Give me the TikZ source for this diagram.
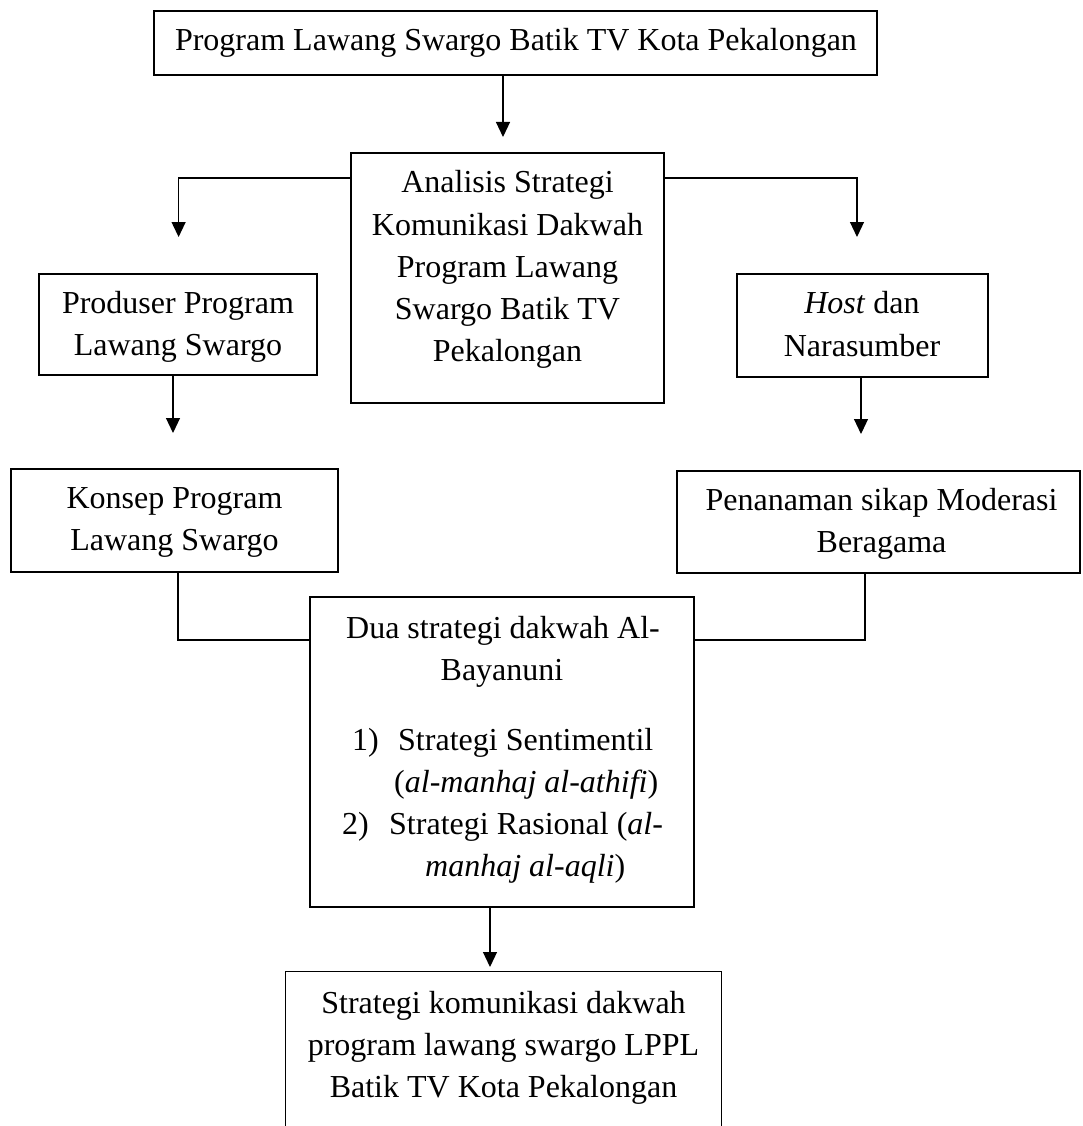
\documentclass[tikz,border=0pt]{standalone}
\usepackage{fontspec}
\setmainfont{Liberation Serif}
\usetikzlibrary{arrows.meta}
\begin{document}
\begin{tikzpicture}[x=1pt,y=-1pt,
  box/.style={draw, line width=1.2pt, inner sep=0pt},
  frame/.style={inner sep=0pt},
  txt/.style={inner sep=0pt, anchor=base, font=\fontsize{32}{42}\selectfont},
  ltxt/.style={inner sep=0pt, anchor=base west, font=\fontsize{32}{42}\selectfont},
  ln/.style={line width=1.2pt},
  arr/.style={line width=1.2pt, -{Triangle[length=15pt,width=14pt]}}]
\useasboundingbox (0,0) rectangle (1082,1126);

% boxes
\node[box, minimum width=723, minimum height=64] (top) at (515.5,43) {};
\node[box, minimum width=313, minimum height=250] (ana) at (507.5,278) {};
\node[box, minimum width=278, minimum height=101] (prod) at (178,324.5) {};
\node[box, minimum width=251, minimum height=103] (host) at (862.5,325.5) {};
\node[box, minimum width=327, minimum height=103] (kon) at (174.5,520.5) {};
\node[box, minimum width=403, minimum height=102] (pen) at (878.5,522) {};
\node[box, minimum width=384, minimum height=310] (dua) at (502,752) {};
\node[frame, minimum width=435, minimum height=168] (bot) at (503.5,1056) {};
\draw[ln] (bot.south west) -- (bot.north west) -- (bot.north east) -- (bot.south east);

% texts
\node[txt] (t0) at (516,51) {Program Lawang Swargo Batik TV Kota Pekalongan};

\node[txt] (a1) at (507.5,193) {Analisis Strategi};
\node[txt] (a2) at (507.5,235) {Komunikasi Dakwah};
\node[txt] (a3) at (507.5,277) {Program Lawang};
\node[txt] (a4) at (507.5,319) {Swargo Batik TV};
\node[txt] (a5) at (507.5,361) {Pekalongan};

\node[txt] (p1) at (178,313) {Produser Program};
\node[txt] (p2) at (178,355) {Lawang Swargo};

\node[txt] (h1) at (862,313) {\textit{Host} dan};
\node[txt] (h2) at (862,356) {Narasumber};

\node[txt] (k1) at (174.5,508) {Konsep Program};
\node[txt] (k2) at (174.5,550) {Lawang Swargo};

\node[txt] (n1) at (881.5,510) {Penanaman sikap Moderasi};
\node[txt] (n2) at (881.5,552) {Beragama};

\node[txt] (d1) at (503,638) {Dua strategi dakwah Al-};
\node[txt] (d2) at (502,680) {Bayanuni};
\node[ltxt] (d3) at (352,750) {1)};
\node[ltxt] (d4) at (398,750) {Strategi Sentimentil};
\node[ltxt] (d5) at (394,792) {(\textit{al-manhaj al-athifi})};
\node[ltxt] (d6) at (342,834) {2)};
\node[ltxt] (d7) at (389,834) {Strategi Rasional (\textit{al-}};
\node[ltxt] (d8) at (425,876) {\textit{manhaj al-aqli})};

\node[txt] (b1) at (503.5,1013) {Strategi komunikasi dakwah};
\node[txt] (b2) at (503.5,1055) {program lawang swargo LPPL};
\node[txt] (b3) at (503.5,1097) {Batik TV Kota Pekalongan};

% connectors
\coordinate (hy) at (0,178);
\coordinate (c1) at (503,137);
\coordinate (c2) at (178.6,237);
\coordinate (c3) at (857,237);
\coordinate (c4) at (173,433);
\coordinate (c5) at (861,434);
\coordinate (c6) at (178,640);
\coordinate (c7) at (865,640);
\coordinate (c8) at (490,967);

\draw[arr] (top.south -| c1) -- (c1);
\draw[arr] (hy -| ana.west) -| (c2);
\draw[arr] (hy -| ana.east) -| (c3);
\draw[arr] (prod.south -| c4) -- (c4);
\draw[arr] (host.south -| c5) -- (c5);
\draw[ln] (kon.south -| c6) -- (c6) -- (c6 -| dua.west);
\draw[ln] (pen.south -| c7) -- (c7) -- (c7 -| dua.east);
\draw[arr] (dua.south -| c8) -- (c8);
\end{tikzpicture}
\end{document}
